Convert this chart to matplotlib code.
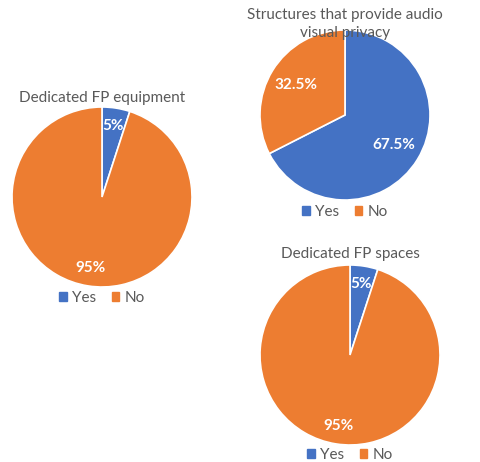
import matplotlib.pyplot as plt
from matplotlib.patches import Patch

#region data
labels = ['Yes', 'No']
equipment = [5, 95]
privacy = [67.5, 32.5]
spaces = [5, 95]
titles = ['Dedicated FP equipment',
          'Structures that provide audio\nvisual privacy',
          'Dedicated FP spaces']
colors = ['#4472C4', '#ED7D31']
#endregion

W, H = 480, 462
plt.rcParams['font.family'] = ['Lato', 'DejaVu Sans']
fig = plt.figure(figsize=(W / 100, H / 100), dpi=100)


def fmt(p):
    return f'{p:.0f}%' if abs(p - round(p)) < 0.05 else f'{p:.1f}%'


def pie(values, title, cx, cy, r, pctd, title_y, leg_y):
    ax = fig.add_axes([(cx - r) / W, (H - cy - r) / H, 2 * r / W, 2 * r / H])
    wedges, _, autotexts = ax.pie(values, colors=colors, startangle=90, counterclock=False,
                                  autopct=fmt, pctdistance=pctd,
                                  wedgeprops=dict(edgecolor='white', linewidth=1.2))
    for t in autotexts:
        t.set_color('white')
        t.set_fontweight('bold')
        t.set_fontsize(11)
    ax.set_xlim(-1, 1)
    ax.set_ylim(-1, 1)
    ax.set_aspect('equal')
    fig.text(cx / W, 1 - title_y / H, title, ha='center', va='center',
             color='#595959', fontsize=11, linespacing=1.3)
    handles = [Patch(color=c) for c in colors]
    fig.legend(handles, labels, loc='center', bbox_to_anchor=(cx / W, 1 - leg_y / H),
               ncol=2, frameon=False, fontsize=11, handlelength=0.5, handleheight=0.5,
               handletextpad=0.35, columnspacing=1.0, labelcolor='#595959')


pie(equipment, titles[0], 102, 197, 90, 0.8, 98, 298)
pie(privacy, titles[1], 345, 115, 85, 0.68, 24, 212)
pie(spaces, titles[2], 350, 355, 90, 0.8, 254, 455)

fig.savefig('out.png', dpi=100)
